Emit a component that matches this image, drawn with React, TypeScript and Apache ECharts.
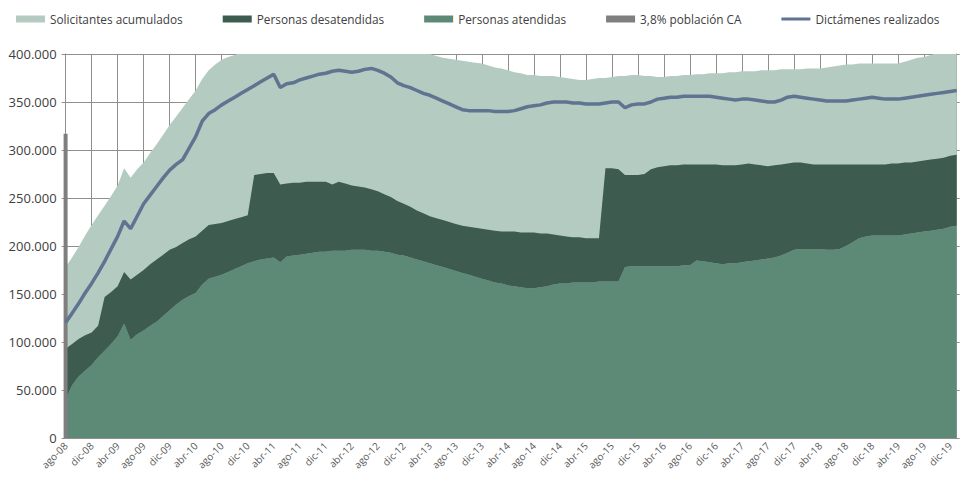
import React, { useEffect, useRef } from "react";
import * as echarts from "echarts";

// Monthly categories: ago-08 .. ene-20 (values in thousands of people)
const MONTHS = ["ene", "feb", "mar", "abr", "may", "jun", "jul", "ago", "sep", "oct", "nov", "dic"];
const categories: string[] = [];
for (let k = 0; k < 138; k++) {
  const m = (7 + k) % 12;
  const y = 8 + Math.floor((7 + k) / 12);
  categories.push(`${MONTHS[m]}-${String(y).padStart(2, "0")}`);
}

const solicitantes = [
  178, 188, 199, 211, 222, 232, 242, 252, 263, 281, 271, 280, 287, 297, 306, 316, 326, 335, 344, 353,
  362, 374, 383, 389, 394, 397, 399, 402, 405, 408, 410, 412, 414, 413, 414, 415, 416, 417, 418, 418,
  419, 418, 419, 418, 419, 418, 418, 417, 416, 414, 412, 410, 408, 406, 404, 402, 400, 398, 396, 395,
  394, 393, 392, 391, 390, 388, 386, 385, 383, 381, 380, 378, 378, 377, 377, 377, 376, 375, 374, 373,
  373, 374, 375, 375, 376, 377, 377, 378, 378, 377, 377, 376, 376, 377, 377, 378, 378, 379, 379, 380,
  380, 380, 381, 381, 382, 382, 382, 383, 383, 383, 384, 384, 384, 384, 385, 385, 385, 386, 387, 388,
  389, 389, 390, 390, 390, 390, 390, 390, 390, 392, 394, 396, 397, 399, 401, 403, 404, 405,
];

const atendidas = [
  40, 55, 64, 70, 76, 84, 91, 98, 106, 119, 102, 108, 112, 117, 121, 127, 133, 139, 144, 148,
  151, 160, 166, 168, 170, 173, 176, 179, 182, 184, 186, 187, 188, 183, 189, 190, 191, 192, 193, 194,
  194, 195, 195, 195, 196, 196, 196, 195, 195, 194, 193, 191, 190, 188, 186, 184, 182, 180, 178, 176,
  174, 172, 170, 168, 166, 164, 162, 161, 159, 158, 157, 156, 156, 157, 158, 160, 161, 161, 162, 162,
  162, 162, 163, 163, 163, 163, 178, 179, 179, 179, 179, 179, 179, 179, 179, 180, 180, 185, 184, 183,
  182, 181, 182, 182, 183, 184, 185, 186, 187, 188, 190, 193, 196, 197, 197, 197, 197, 196, 196, 197,
  200, 204, 208, 210, 211, 211, 211, 211, 211, 212, 213, 214, 215, 216, 217, 218, 220, 221,
];

const desatendidas = [
  53, 43, 39, 37, 34, 33, 56, 54, 52, 54, 63, 62, 63, 64, 65, 64, 63, 60, 59, 59,
  59, 56, 56, 55, 54, 53, 52, 51, 50, 90, 89, 89, 88, 81, 76, 76, 75, 75, 74, 73,
  73, 69, 72, 70, 67, 66, 65, 64, 62, 60, 58, 56, 54, 53, 51, 50, 49, 49, 49, 49,
  49, 49, 50, 51, 52, 53, 54, 54, 56, 57, 57, 58, 58, 56, 55, 52, 50, 49, 47, 47,
  46, 46, 45, 118, 118, 117, 96, 95, 95, 96, 101, 103, 104, 105, 105, 105, 105, 100, 101, 102,
  103, 103, 102, 102, 102, 102, 100, 98, 96, 96, 95, 93, 91, 90, 89, 88, 88, 89, 89, 88,
  85, 81, 77, 75, 74, 74, 74, 75, 75, 75, 74, 74, 74, 74, 74, 74, 74, 74,
];

const poblacionCA = [317];

const dictamenes = [
  120, 130, 140, 151, 161, 172, 184, 197, 210, 226, 218, 231, 244, 253, 262, 271, 279, 285, 290, 302,
  314, 330, 338, 342, 347, 351, 355, 359, 363, 367, 371, 375, 379, 365, 369, 370, 373, 375, 377, 379,
  380, 382, 383, 382, 381, 382, 384, 385, 383, 380, 376, 370, 367, 365, 362, 359, 357, 354, 351, 348,
  345, 342, 341, 341, 341, 341, 340, 340, 340, 341, 343, 345, 346, 347, 349, 350, 350, 350, 349, 349,
  348, 348, 348, 349, 350, 350, 344, 347, 348, 348, 350, 353, 354, 355, 355, 356, 356, 356, 356, 356,
  355, 354, 353, 352, 353, 353, 352, 351, 350, 350, 352, 355, 356, 355, 354, 353, 352, 351, 351, 351,
  351, 352, 353, 354, 355, 354, 353, 353, 353, 354, 355, 356, 357, 358, 359, 360, 361, 362,
];

const yTicks = [0, 50000, 100000, 150000, 200000, 250000, 300000, 350000, 400000];

const K = (a: number[]) => a.map((v) => v * 1000);
const fmt = (v: number) => String(v).replace(/\B(?=(\d{3})+(?!\d))/g, ".");

const FONT = "Open Sans";
const GRID_COLOR = "#8f8f8f";
const LINE_ICON = "path://M0,0h0.01v0.01h-0.01z M0,2h29v3h-29z M0,7h0.01v0.01h-0.01z";

export default function App() {
  const ref = useRef<HTMLDivElement>(null);
  useEffect(() => {
    if (!ref.current) return;
    const chart = echarts.init(ref.current, null, { renderer: "svg" });
    const barData = categories.map((_, i) => (i < poblacionCA.length ? poblacionCA[i] * 1000 : "-"));
    chart.setOption({
      animation: false,
      backgroundColor: "#ffffff",
      textStyle: { fontFamily: FONT },
      legend: {
        left: 11,
        top: 8,
        width: 950,
        itemGap: 40,
        itemWidth: 29,
        itemHeight: 7,
        textStyle: { fontFamily: FONT, fontSize: 11.8, color: "#404040" },
        data: [
          { name: "Solicitantes acumulados", icon: "rect" },
          { name: "Personas desatendidas", icon: "rect" },
          { name: "Personas atendidas", icon: "rect" },
          { name: "3,8% población CA", icon: "rect" },
          { name: "Dictámenes realizados", icon: LINE_ICON },
        ],
      },
      grid: { left: 65.6, right: 3.3, top: 54, bottom: 46, containLabel: false },
      xAxis: {
        type: "category",
        data: categories,
        boundaryGap: false,
        axisLine: { show: true, lineStyle: { color: GRID_COLOR, width: 1 } },
        axisTick: { show: false },
        axisLabel: {
          interval: 3,
          rotate: 45,
          fontFamily: FONT,
          fontSize: 10,
          color: "#595959",
          margin: 6,
        },
        splitLine: { show: true, interval: 3, lineStyle: { color: GRID_COLOR, width: 1 } },
      },
      yAxis: [
        {
          type: "value",
          min: 0,
          max: 400000,
          interval: 50000,
          axisLine: { show: true, lineStyle: { color: GRID_COLOR, width: 1 } },
          axisTick: { show: true, length: 4, lineStyle: { color: GRID_COLOR } },
          axisLabel: {
            fontFamily: FONT,
            fontSize: 13,
            color: "#404040",
            margin: 9,
            formatter: (v: number) => (yTicks.includes(v) ? fmt(v) : ""),
          },
          splitLine: { show: true, lineStyle: { color: GRID_COLOR, width: 1 } },
        },
        {
          type: "value",
          position: "right",
          min: 0,
          max: 400000,
          interval: 50000,
          axisLine: { show: true, lineStyle: { color: GRID_COLOR, width: 1 } },
          axisTick: { show: true, length: 3, lineStyle: { color: GRID_COLOR } },
          axisLabel: { show: false },
          splitLine: { show: false },
        },
      ],
      series: [
        {
          name: "Solicitantes acumulados",
          type: "line",
          data: K(solicitantes),
          symbol: "none",
          lineStyle: { width: 0 },
          itemStyle: { color: "#b4cbc2" },
          areaStyle: { color: "#b4cbc2", opacity: 1 },
          z: 2,
        },
        {
          name: "Personas atendidas",
          type: "line",
          stack: "p",
          data: K(atendidas),
          symbol: "none",
          lineStyle: { width: 0 },
          itemStyle: { color: "#5d8a76" },
          areaStyle: { color: "#5d8a76", opacity: 1 },
          z: 3,
        },
        {
          name: "Personas desatendidas",
          type: "line",
          stack: "p",
          data: K(desatendidas),
          symbol: "none",
          lineStyle: { width: 0 },
          itemStyle: { color: "#3d5b4f" },
          areaStyle: { color: "#3d5b4f", opacity: 1 },
          z: 3,
        },
        {
          name: "3,8% población CA",
          type: "bar",
          data: barData,
          barWidth: 4,
          itemStyle: { color: "#7f7f7f" },
          z: 5,
        },
        {
          name: "Dictámenes realizados",
          type: "line",
          data: K(dictamenes),
          symbol: "none",
          lineStyle: { width: 3.5, color: "#5e7490" },
          itemStyle: { color: "#5e7490" },
          z: 6,
        },
      ],
    });
    return () => chart.dispose();
  }, []);
  return (
    <div
      ref={ref}
      style={{ position: "absolute", left: 0, top: 0, width: 960, height: 484 }}
    />
  );
}
